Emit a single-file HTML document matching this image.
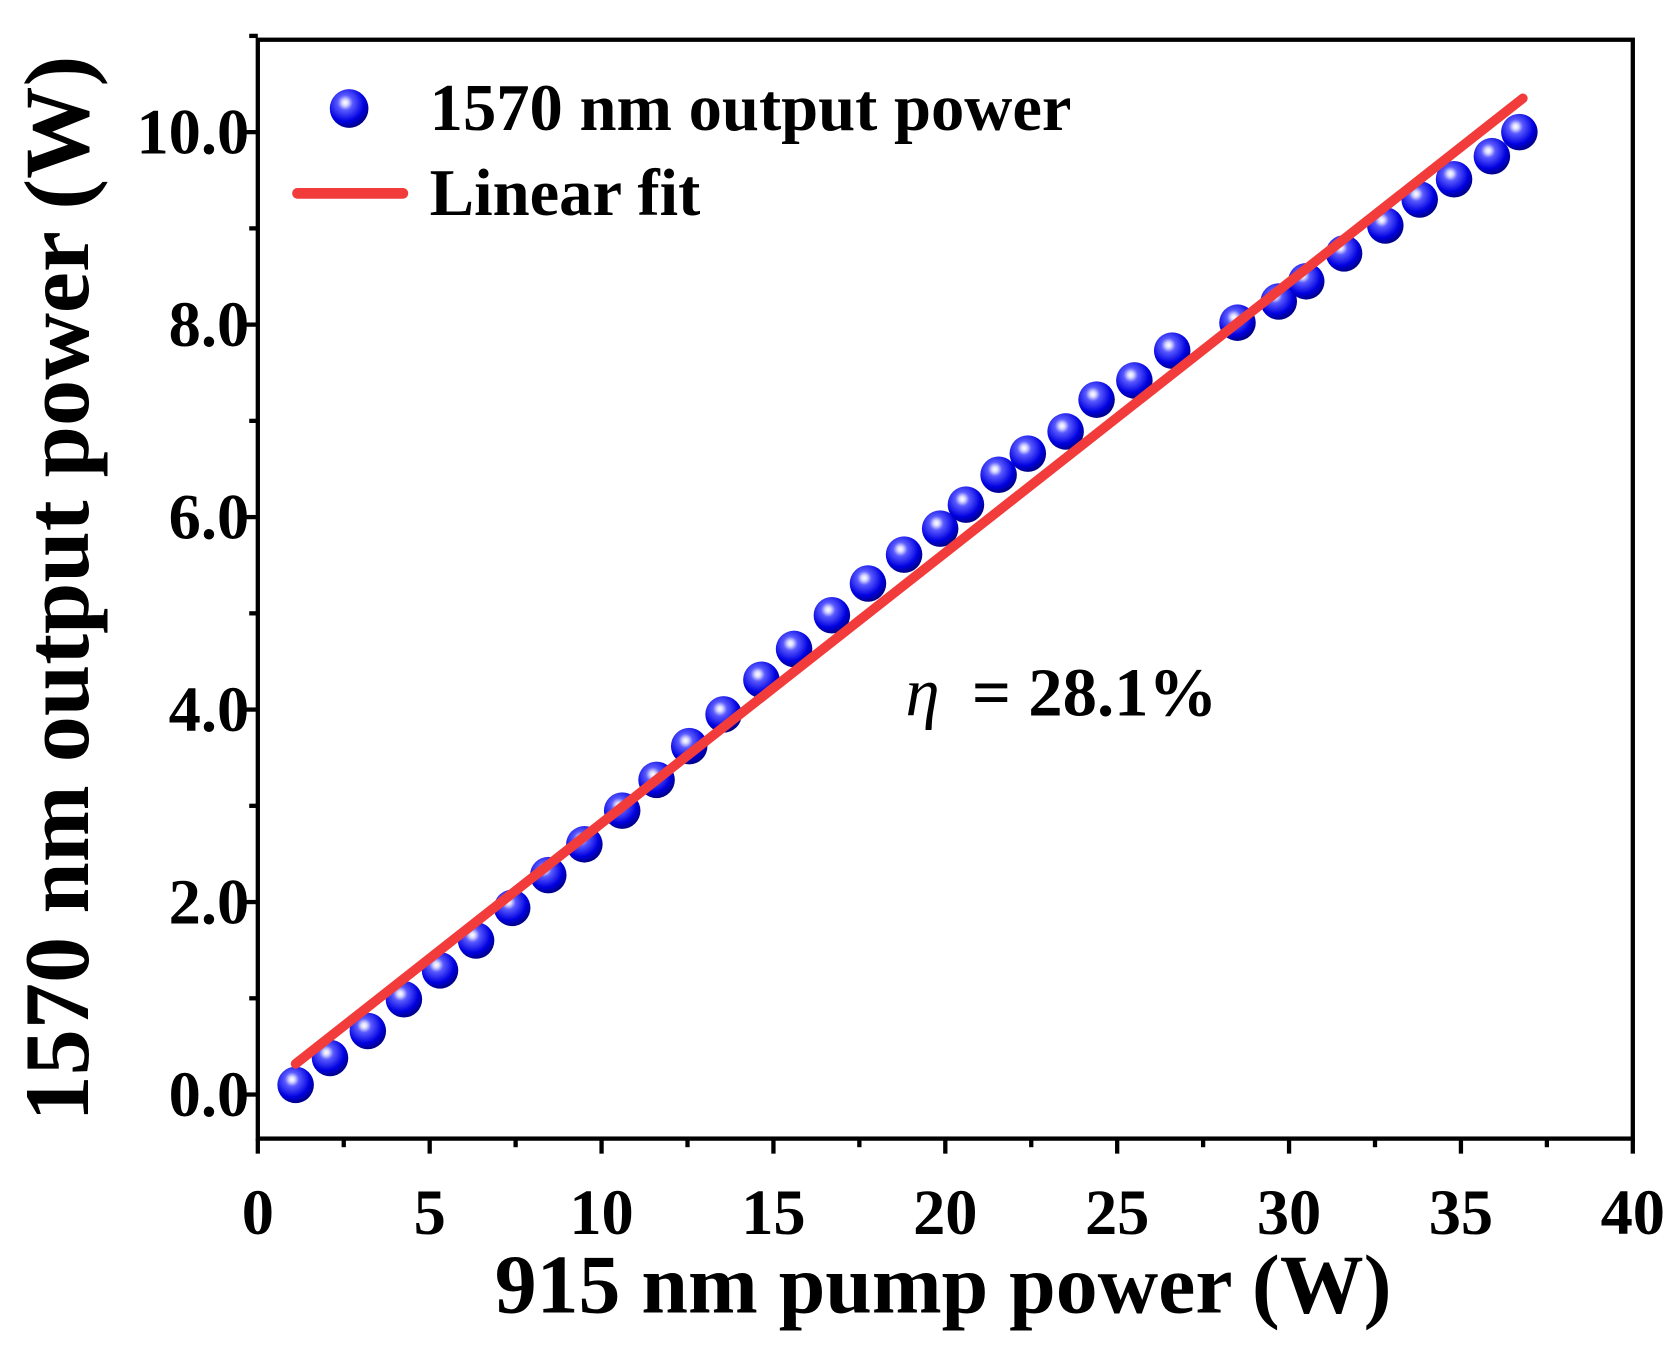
<!DOCTYPE html>
<html><head><meta charset="utf-8"><style>
html,body{margin:0;padding:0;background:#fff;}
svg{display:block;}
text{font-family:"Liberation Serif",serif;font-weight:bold;fill:#000;}
</style></head><body>
<svg id="chart" width="1679" height="1347" viewBox="0 0 1563 1254" preserveAspectRatio="none">
<defs>
<radialGradient id="ball" cx="0.4" cy="0.35" r="0.65">
<stop offset="0" stop-color="#ffffff"/>
<stop offset="0.12" stop-color="#d8d8ff"/>
<stop offset="0.3" stop-color="#5a5aff"/>
<stop offset="0.75" stop-color="#0000e0"/>
<stop offset="1" stop-color="#00008a"/>
</radialGradient>
</defs>
</svg>
<script>
const xs = [1.1,2.1,3.2,4.25,5.3,6.35,7.4,8.45,9.5,10.6,11.6,12.55,13.55,14.65,15.6,16.7,17.75,18.8,19.85,20.6,21.55,22.4,23.5,24.4,25.5,26.6,28.5,29.7,30.5,31.6,32.8,33.8,34.8,35.9,36.7];
const ys = [0.1,0.38,0.66,0.99,1.29,1.6,1.94,2.28,2.6,2.95,3.27,3.62,3.95,4.31,4.63,4.98,5.31,5.61,5.88,6.13,6.44,6.66,6.89,7.22,7.42,7.73,8.02,8.24,8.45,8.74,9.03,9.3,9.51,9.75,10.0];
const fitSlope = 0.281;
const fitIntercept = 0.01;
const fitRange = [1.1, 36.8];
const xTicks = [0,5,10,15,20,25,30,35,40];
const yTicks = [0,2,4,6,8,10];
const yTickLabels = ["0.0","2.0","4.0","6.0","8.0","10.0"];

const NS="http://www.w3.org/2000/svg";
const svg=document.getElementById('chart');
const L=240,R=1520,T=37,B=1060;
const xMin=0,xMax=40,yMin=-0.458,yMax=10.96;
const sx=v=>L+(v-xMin)/(xMax-xMin)*(R-L);
const sy=v=>B-(v-yMin)/(yMax-yMin)*(B-T);
function mk(tag,attrs,parent){const e=document.createElementNS(NS,tag);for(const k in attrs)e.setAttribute(k,attrs[k]);(parent||svg).appendChild(e);return e;}

const frame=mk('rect',{x:L,y:T,width:R-L,height:B-T,fill:'none',stroke:'#000','stroke-width':4});



xTicks.forEach((v,i)=>{
  const t=mk('line',{x1:sx(v),x2:sx(v),y1:B,y2:B+14,stroke:'#000','stroke-width':4});
  
  
  if(i<xTicks.length-1){
    const m=mk('line',{x1:sx(v+2.5),x2:sx(v+2.5),y1:B,y2:B+8,stroke:'#000','stroke-width':4});
    
    
  }
  const lb=mk('text',{x:sx(v),y:1149,'text-anchor':'middle','font-size':60});
  lb.textContent=v;
  
  
});
yTicks.forEach((v,i)=>{
  const t=mk('line',{x1:L-14,x2:L,y1:sy(v),y2:sy(v),stroke:'#000','stroke-width':4});
  
  
  const m=mk('line',{x1:L-8,x2:L,y1:sy(v+1),y2:sy(v+1),stroke:'#000','stroke-width':4});
  
  
  const lb=mk('text',{x:L-8,y:sy(v)+20,'text-anchor':'end','font-size':60});
  lb.textContent=yTickLabels[i];
  
  
});

const xt=mk('text',{x:878,y:1222,'text-anchor':'middle','font-size':78});
xt.textContent='915 nm pump power (W)';


const yt=mk('text',{x:0,y:0,'text-anchor':'middle','font-size':86,transform:'translate(82,548) rotate(-90)'});
yt.textContent='1570 nm output power (W)';



xs.forEach((x,i)=>{
  const c=mk('circle',{cx:sx(x),cy:sy(ys[i]),r:17,fill:'url(#ball)'});
  
  
});
const fl=mk('line',{x1:sx(fitRange[0]),y1:sy(fitSlope*fitRange[0]+fitIntercept),x2:sx(fitRange[1]),y2:sy(fitSlope*fitRange[1]+fitIntercept),stroke:'#f23c3c','stroke-width':9,'stroke-linecap':'round'});



const lc=mk('circle',{cx:325,cy:101,r:18,fill:'url(#ball)'});


const lt1=mk('text',{x:400,y:121,'font-size':62});
lt1.textContent='1570 nm output power';


const ll=mk('line',{x1:277,x2:375,y1:180,y2:180,stroke:'#f23c3c','stroke-width':10,'stroke-linecap':'round'});


const lt2=mk('text',{x:400,y:200,'font-size':62});
lt2.textContent='Linear fit';



const an=mk('text',{x:843,y:666,'font-size':64});
an.innerHTML='<tspan font-style="italic" font-weight="normal">η</tspan><tspan dx="14"> = 28.1%</tspan>';


</script>
</body></html>
